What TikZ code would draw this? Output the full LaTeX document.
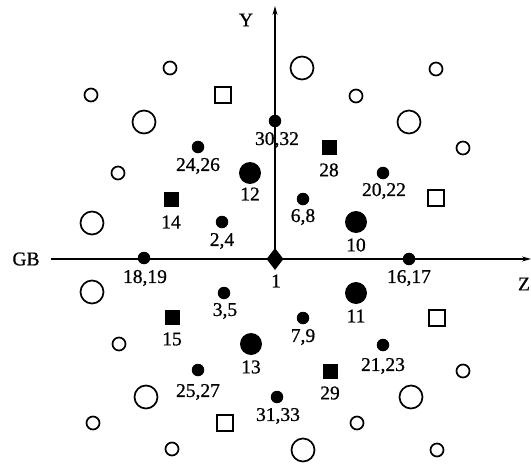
\documentclass[tikz,border=0pt]{standalone}
\usepackage{fontspec}
\setmainfont{Liberation Serif}
\newfontfamily\labfont{Liberation Serif}[FakeBold=0.8]
\usetikzlibrary{shapes.geometric,arrows.meta}
\begin{document}
\begin{tikzpicture}[x=1pt,y=-1pt,
  smallc/.style={circle,draw,line width=1.7pt,minimum size=13pt,inner sep=0pt},
  bigc/.style={circle,draw,line width=1.7pt,minimum size=23pt,inner sep=0pt},
  dotm/.style={circle,fill,minimum size=12.5pt,inner sep=0pt},
  bigdot/.style={circle,fill,minimum size=22pt,inner sep=0pt},
  fsq/.style={rectangle,fill,minimum size=15pt,inner sep=0pt},
  osq/.style={rectangle,draw,line width=1.6pt,minimum size=16pt,inner sep=0pt},
  lab/.style={font=\labfont\fontsize{19.5}{20}\selectfont,inner sep=0pt},
  axis/.style={line width=1.3pt,-{Stealth[length=9pt,width=5pt]}}]
\useasboundingbox (0,0) rectangle (531,466);
% axes
\coordinate (xstart) at (51,259);
\coordinate (zend) at (531,259);
\coordinate (ytop) at (275,6);
\node[diamond,fill,minimum width=17pt,minimum height=22pt,inner sep=0pt] (o) at (275,259) {};
\draw[axis] (xstart) -- (zend);
\draw[axis] (o.center) -- (ytop);
\node[lab] (gb) at (26,259) {GB};
\node[lab] (zl) at (524,284) {Z};
\node[lab] (yl) at (246,20) {Y};
\node[lab] (l1) at (276,281) {1};
% small filled dots
\node[dotm] (d3032) at (275,121) {}; \node[lab] (l3032) at (277,140) {30,32};
\node[dotm] (d2426) at (198,147) {}; \node[lab] (l2426) at (198,166) {24,26};
\node[dotm] (d2022) at (383,173) {}; \node[lab] (l2022) at (384,191) {20,22};
\node[dotm] (d68) at (303,199) {}; \node[lab] (l68) at (303,217) {6,8};
\node[dotm] (d24) at (222,222) {}; \node[lab] (l24) at (222,241) {2,4};
\node[dotm] (d1819) at (144,258) {}; \node[lab] (l1819) at (145,278) {18,19};
\node[dotm] (d1617) at (409,259) {}; \node[lab] (l1617) at (409,278) {16,17};
\node[dotm] (d35) at (224,293) {}; \node[lab] (l35) at (225,311) {3,5};
\node[dotm] (d79) at (303,318) {}; \node[lab] (l79) at (303,337) {7,9};
\node[dotm] (d2123) at (383,345) {}; \node[lab] (l2123) at (383,366) {21,23};
\node[dotm] (d2527) at (198,370) {}; \node[lab] (l2527) at (198,392) {25,27};
\node[dotm] (d3133) at (277,397) {}; \node[lab] (l3133) at (278,416) {31,33};
% big filled dots
\node[bigdot] (d12) at (250,173) {}; \node[lab] (l12) at (250,194) {12};
\node[bigdot] (d10) at (356,222) {}; \node[lab] (l10) at (356,245) {10};
\node[bigdot] (d11) at (356,293) {}; \node[lab] (l11) at (356,316) {11};
\node[bigdot] (d13) at (251,344) {}; \node[lab] (l13) at (251,367) {13};
% filled squares
\node[fsq] (s28) at (329,147) {}; \node[lab] (l28) at (329,170) {28};
\node[fsq] (s14) at (171,199) {}; \node[lab] (l14) at (171,222) {14};
\node[fsq] (s15) at (172,317) {}; \node[lab] (l15) at (172,339) {15};
\node[fsq] (s29) at (330,371) {}; \node[lab] (l29) at (330,393) {29};
% open squares
\node[osq] (q1) at (223,95) {};
\node[osq] (q2) at (436,198) {};
\node[osq] (q3) at (437,318) {};
\node[osq] (q4) at (225,423) {};
% big open circles
\node[bigc] (b1) at (302,68) {};
\node[bigc] (b2) at (409,122) {};
\node[bigc] (b3) at (144,122) {};
\node[bigc] (b4) at (92,223) {};
\node[bigc] (b5) at (92,292) {};
\node[bigc] (b6) at (146,397) {};
\node[bigc] (b7) at (411,397) {};
\node[bigc] (b8) at (303,450) {};
% small open circles
\node[smallc] (c1) at (170,68) {};
\node[smallc] (c2) at (436,69) {};
\node[smallc] (c3) at (91,95) {};
\node[smallc] (c4) at (356,96) {};
\node[smallc] (c5) at (463,148) {};
\node[smallc] (c6) at (118,173) {};
\node[smallc] (c7) at (119,344) {};
\node[smallc] (c8) at (463,371) {};
\node[smallc] (c9) at (93,423) {};
\node[smallc] (c10) at (357,423) {};
\node[smallc] (c11) at (172,449) {};
\node[smallc] (c12) at (437,450) {};
\end{tikzpicture}
\end{document}
